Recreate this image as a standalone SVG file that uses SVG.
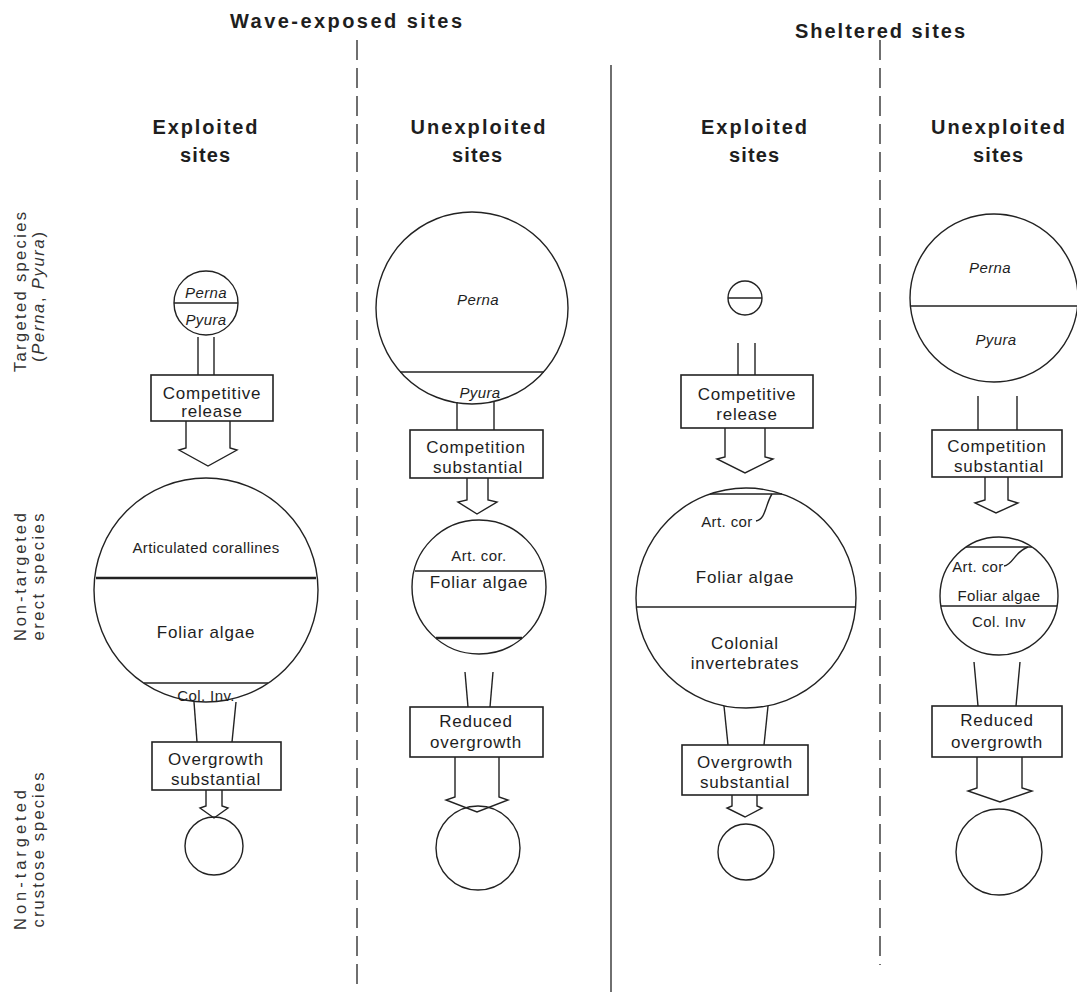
<svg xmlns="http://www.w3.org/2000/svg" width="1077" height="992" viewBox="0 0 1077 992">
<style>
text{font-family:"Liberation Sans",Arial,sans-serif;fill:#1e1e1e}
.h{font-size:20px;font-weight:bold;text-anchor:middle}
.t{font-size:17px;text-anchor:middle;letter-spacing:0.8px}
.s{font-size:15px;text-anchor:middle;letter-spacing:0.4px}
.i{font-style:italic}
.side{font-size:16.5px;text-anchor:middle;fill:#333}
.ln{fill:none;stroke:#222;stroke-width:1.4}
.th{fill:none;stroke:#222;stroke-width:2.6}
.bx{fill:#fff;stroke:#222;stroke-width:1.6}
.dv{fill:none;stroke:#333;stroke-width:1.4}
</style>
<rect width="1077" height="992" fill="#fff"/>
<g id="dividers">
<line class="dv" x1="357" y1="40" x2="357" y2="992" stroke-dasharray="20 8"/>
<line class="dv" x1="611" y1="65" x2="611" y2="992" stroke-width="1.8"/>
<line class="dv" x1="880" y1="40" x2="880" y2="965" stroke-dasharray="20 8"/>
</g>
<g id="headers">
<text class="h" x="346" y="28" textLength="232" lengthAdjust="spacing">Wave-exposed sites</text>
<text class="h" x="880" y="38" textLength="170" lengthAdjust="spacing">Sheltered sites</text>
<text class="h" x="205" y="134" textLength="105" lengthAdjust="spacing">Exploited</text>
<text class="h" x="205" y="162" textLength="50" lengthAdjust="spacing">sites</text>
<text class="h" x="478" y="134" textLength="135" lengthAdjust="spacing">Unexploited</text>
<text class="h" x="477" y="162" textLength="50" lengthAdjust="spacing">sites</text>
<text class="h" x="754" y="134" textLength="106" lengthAdjust="spacing">Exploited</text>
<text class="h" x="754" y="162" textLength="50" lengthAdjust="spacing">sites</text>
<text class="h" x="998" y="134" textLength="134" lengthAdjust="spacing">Unexploited</text>
<text class="h" x="998" y="162" textLength="50" lengthAdjust="spacing">sites</text>
</g>
<g id="row-labels">
<text class="side" transform="translate(26,292) rotate(-90)" textLength="160" lengthAdjust="spacing">Targeted species</text>
<text class="side" transform="translate(44,297) rotate(-90)" textLength="130" lengthAdjust="spacing">(<tspan class="i">Perna</tspan>, <tspan class="i">Pyura</tspan>)</text>
<text class="side" transform="translate(26,577) rotate(-90)" textLength="128" lengthAdjust="spacing">Non-targeted</text>
<text class="side" transform="translate(44,577) rotate(-90)" textLength="127" lengthAdjust="spacing">erect species</text>
<text class="side" transform="translate(26,860) rotate(-90)" textLength="140" lengthAdjust="spacing">Non-targeted</text>
<text class="side" transform="translate(44,850) rotate(-90)" textLength="155" lengthAdjust="spacing">crustose species</text>
</g>
<g id="connectors">
<line class="ln" x1="198" y1="337" x2="198" y2="375"/>
<line class="ln" x1="214" y1="337" x2="214" y2="375"/>
<path class="ln" d="M186,421 V448 L179,450 L208,466 L237,450 L230,448 V421"/>
<line class="ln" x1="194" y1="702" x2="197" y2="742"/>
<line class="ln" x1="236" y1="702" x2="232" y2="742"/>
<path class="ln" d="M206,790 V806 L200,808 L214,818 L228,808 L222,806 V790"/>
<line class="ln" x1="457" y1="402" x2="457" y2="430"/>
<line class="ln" x1="494" y1="402" x2="494" y2="430"/>
<path class="ln" d="M467,478 V500 L458,502 L477,514 L497,502 L488,500 V478"/>
<line class="ln" x1="465" y1="672" x2="468" y2="707"/>
<line class="ln" x1="493" y1="672" x2="490" y2="707"/>
<path class="ln" d="M455,757 V797 L446,800 L477,812 L508,800 L499,797 V757"/>
<line class="ln" x1="738" y1="343" x2="738" y2="375"/>
<line class="ln" x1="755" y1="343" x2="755" y2="375"/>
<path class="ln" d="M725,428 V457 L717,459 L745,473 L773,459 L765,457 V428"/>
<line class="ln" x1="724" y1="706" x2="728" y2="745"/>
<line class="ln" x1="768" y1="706" x2="764" y2="745"/>
<path class="ln" d="M732,795 V806 L727,808 L745,817 L762,808 L757,806 V795"/>
<line class="ln" x1="978" y1="396" x2="978" y2="430"/>
<line class="ln" x1="1017" y1="396" x2="1017" y2="430"/>
<path class="ln" d="M985,477 V500 L975,503 L996,513 L1018,503 L1008,500 V477"/>
<line class="ln" x1="974" y1="662" x2="978" y2="706"/>
<line class="ln" x1="1020" y1="662" x2="1016" y2="706"/>
<path class="ln" d="M977,757 V788 L968,791 L1000,802 L1032,791 L1022,788 V757"/>
</g>
<g id="c1-targeted">
<circle class="ln" cx="206" cy="303" r="32"/>
<line class="ln" x1="174" y1="303" x2="238" y2="303"/>
<text class="s i" x="206" y="298">Perna</text>
<text class="s i" x="206" y="325">Pyura</text>
</g>
<g id="c1-box1">
<rect class="bx" x="151" y="375" width="122" height="46"/>
<text class="t" x="212" y="399">Competitive</text>
<text class="t" x="212" y="417">release</text>
</g>
<g id="c1-erect">
<circle class="ln" cx="206" cy="590" r="112"/>
<line class="th" x1="96" y1="578" x2="316" y2="578"/>
<line class="ln" x1="144" y1="683" x2="268" y2="683"/>
<text class="s" x="206" y="553">Articulated corallines</text>
<text class="t" x="206" y="638">Foliar algae</text>
<text class="s" x="206" y="701">Col. Inv.</text>
</g>
<g id="c1-box2">
<rect class="bx" x="152" y="742" width="129" height="48"/>
<text class="t" x="216" y="765">Overgrowth</text>
<text class="t" x="216" y="785">substantial</text>
</g>
<g id="c1-crustose">
<circle class="ln" cx="214" cy="846" r="29"/>
</g>
<g id="c2-targeted">
<circle class="ln" cx="472" cy="308" r="96"/>
<line class="ln" x1="400" y1="372" x2="544" y2="372"/>
<text class="s i" x="478" y="305">Perna</text>
<text class="s i" x="480" y="398">Pyura</text>
</g>
<g id="c2-box1">
<rect class="bx" x="410" y="430" width="133" height="48"/>
<text class="t" x="476" y="453">Competition</text>
<text class="t" x="478" y="473">substantial</text>
</g>
<g id="c2-erect">
<circle class="ln" cx="479" cy="587" r="67"/>
<line class="ln" x1="415" y1="571" x2="543" y2="571"/>
<line class="th" x1="436" y1="638" x2="522" y2="638"/>
<text class="s" x="479" y="561">Art. cor.</text>
<text class="t" x="479" y="588">Foliar algae</text>
</g>
<g id="c2-box2">
<rect class="bx" x="410" y="707" width="133" height="50"/>
<text class="t" x="476" y="727">Reduced</text>
<text class="t" x="476" y="748">overgrowth</text>
</g>
<g id="c2-crustose">
<circle class="ln" cx="478" cy="848" r="42"/>
</g>
<g id="c3-targeted">
<circle class="ln" cx="745" cy="298" r="17"/>
<line class="ln" x1="728" y1="298" x2="762" y2="298"/>
</g>
<g id="c3-box1">
<rect class="bx" x="681" y="375" width="132" height="53"/>
<text class="t" x="747" y="400">Competitive</text>
<text class="t" x="747" y="420">release</text>
</g>
<g id="c3-erect">
<circle class="ln" cx="746" cy="598" r="110"/>
<line class="ln" x1="710" y1="494" x2="782" y2="494"/>
<path class="ln" d="M756,521 C766,519 765,505 772,494"/>
<line class="ln" x1="637" y1="607" x2="855" y2="607"/>
<text class="s" x="727" y="527">Art. cor</text>
<text class="t" x="745" y="583">Foliar algae</text>
<text class="t" x="745" y="649">Colonial</text>
<text class="t" x="745" y="669">invertebrates</text>
</g>
<g id="c3-box2">
<rect class="bx" x="682" y="745" width="126" height="50"/>
<text class="t" x="745" y="768">Overgrowth</text>
<text class="t" x="745" y="788">substantial</text>
</g>
<g id="c3-crustose">
<circle class="ln" cx="746" cy="852" r="28"/>
</g>
<g id="c4-targeted">
<circle class="ln" cx="994" cy="298" r="84"/>
<line class="ln" x1="910" y1="306" x2="1077" y2="306"/>
<text class="s i" x="990" y="273">Perna</text>
<text class="s i" x="996" y="345">Pyura</text>
</g>
<g id="c4-box1">
<rect class="bx" x="932" y="430" width="130" height="47"/>
<text class="t" x="997" y="452">Competition</text>
<text class="t" x="999" y="472">substantial</text>
</g>
<g id="c4-erect">
<circle class="ln" cx="999" cy="596" r="59"/>
<line class="ln" x1="966" y1="547" x2="1032" y2="547"/>
<path class="ln" d="M1004,566 C1013,565 1014,552 1028,547"/>
<line class="ln" x1="941" y1="606" x2="1057" y2="606"/>
<text class="s" x="978" y="572">Art. cor</text>
<text class="s" x="999" y="601">Foliar algae</text>
<text class="s" x="999" y="627">Col. Inv</text>
</g>
<g id="c4-box2">
<rect class="bx" x="932" y="706" width="130" height="51"/>
<text class="t" x="997" y="726">Reduced</text>
<text class="t" x="997" y="748">overgrowth</text>
</g>
<g id="c4-crustose">
<circle class="ln" cx="999" cy="852" r="43"/>
</g>
</svg>
